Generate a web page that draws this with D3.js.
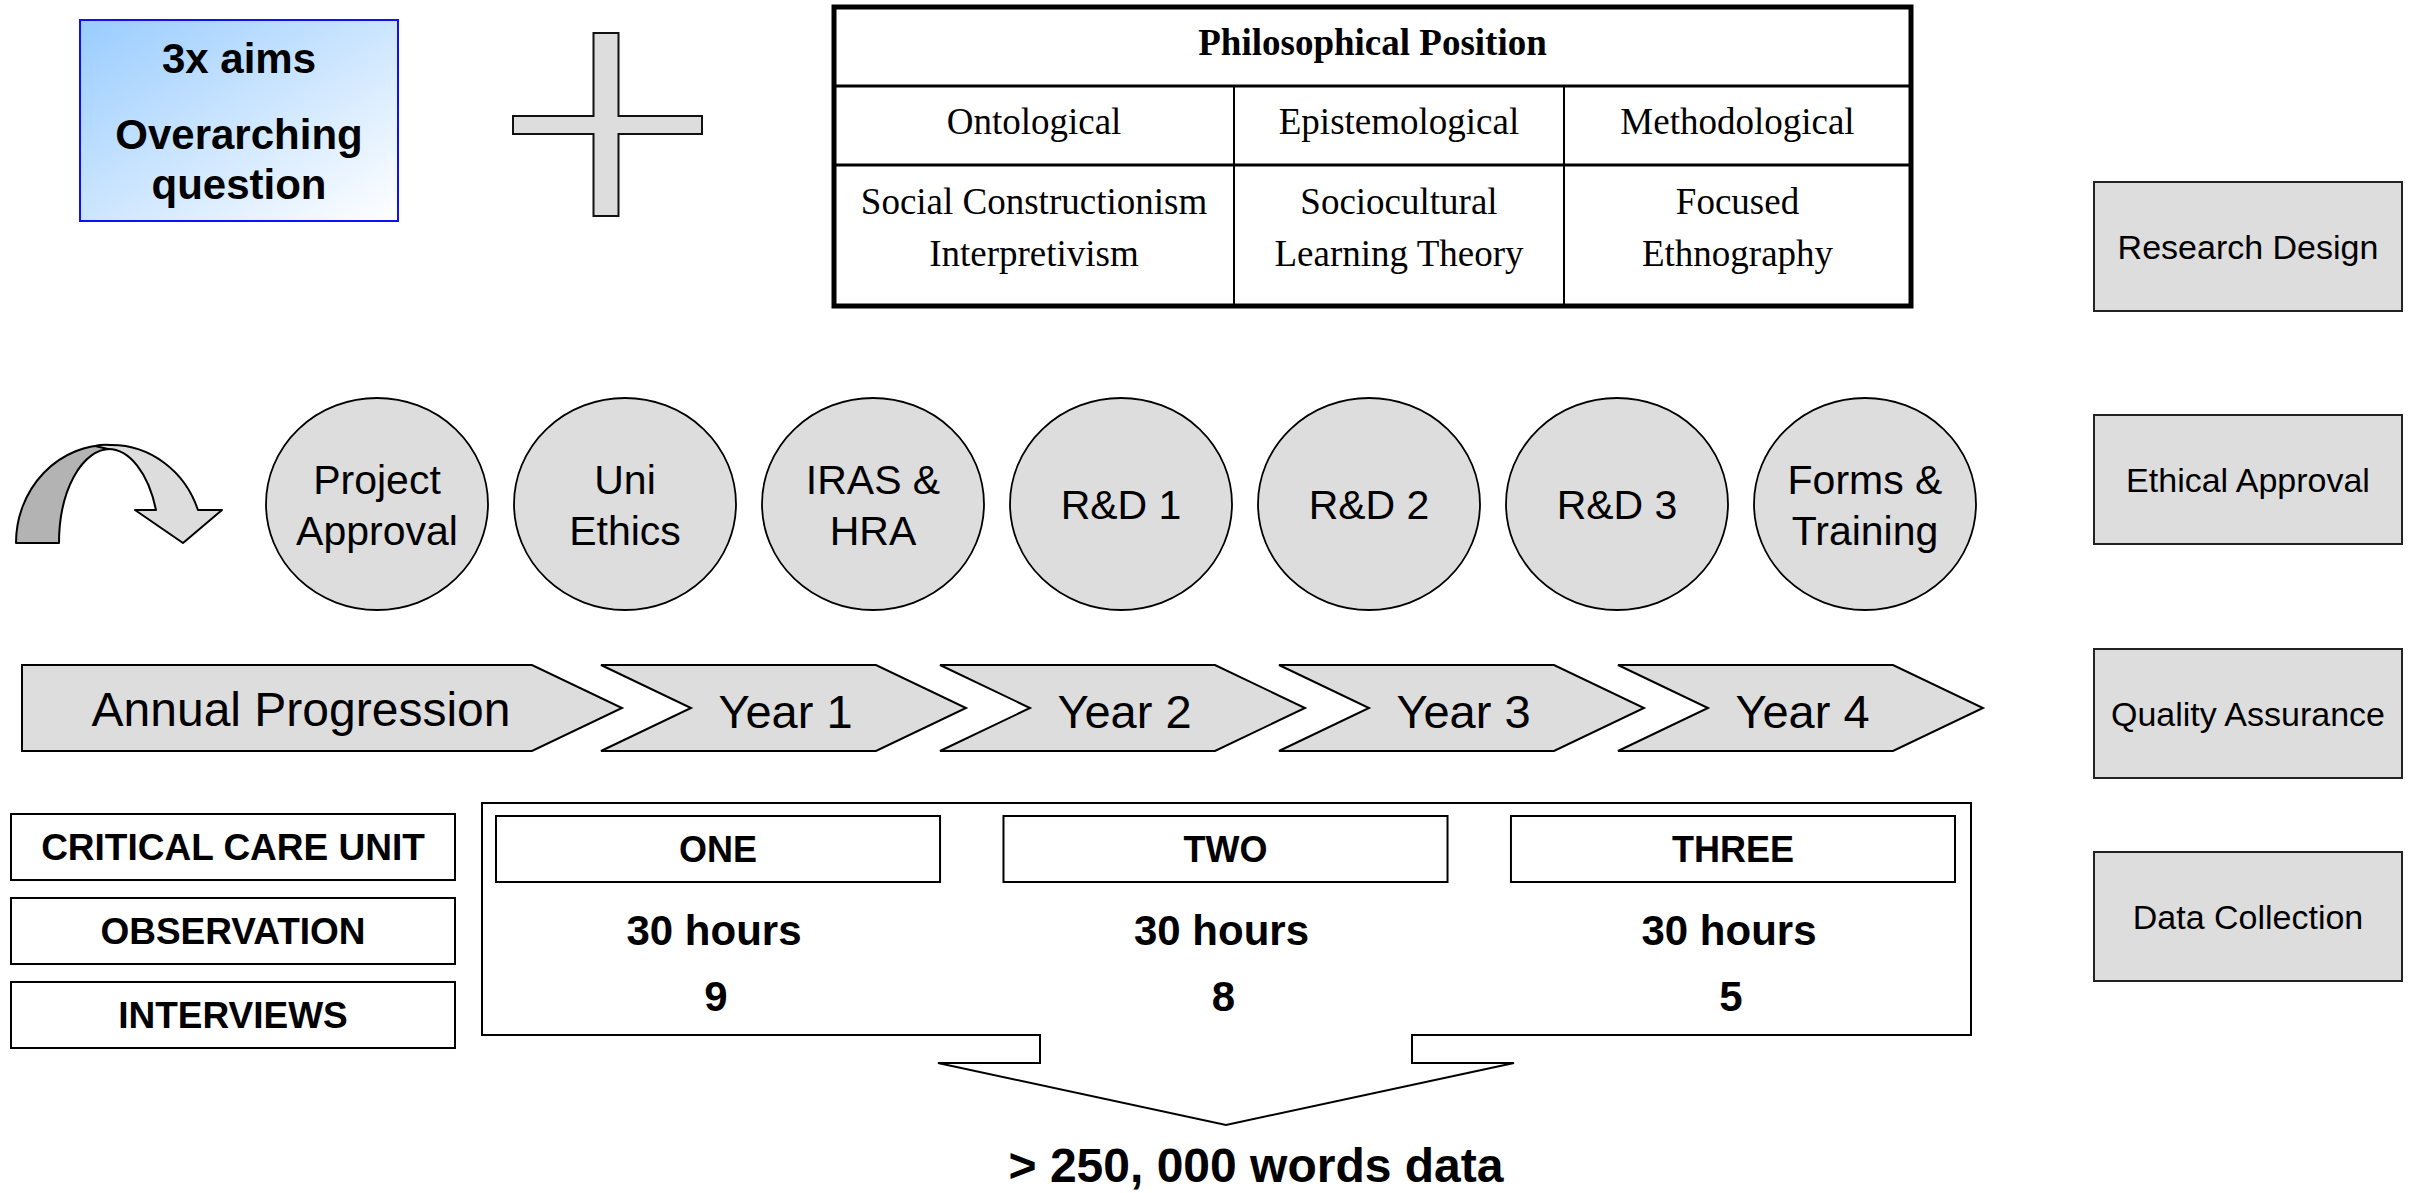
<!DOCTYPE html>
<html>
<head>
<meta charset="utf-8">
<script src="https://cdn.jsdelivr.net/npm/d3@7"></script>
<style>
  body { margin: 0; background: #fff; }
  svg { display: block; }
</style>
</head>
<body>
<svg id="chart" width="2417" height="1193"></svg>
<script>
// ---- content of the diagram ----
const aimsLines = ["3x aims", "Overarching", "question"];
const tableTitle = "Philosophical Position";
const tableHeads = ["Ontological", "Epistemological", "Methodological"];
const tableCells = [
  ["Social Constructionism", "Interpretivism"],
  ["Sociocultural", "Learning Theory"],
  ["Focused", "Ethnography"]
];
const approvalSteps = [
  ["Project", "Approval"], ["Uni", "Ethics"], ["IRAS &", "HRA"],
  ["R&D 1"], ["R&D 2"], ["R&D 3"], ["Forms &", "Training"]
];
const progressionLabel = "Annual Progression";
const years = ["Year 1", "Year 2", "Year 3", "Year 4"];
const siteLabels = ["CRITICAL CARE UNIT", "OBSERVATION", "INTERVIEWS"];
const units = ["ONE", "TWO", "THREE"];
const observationHours = [30, 30, 30];
const interviewCounts = [9, 8, 5];
const totalWords = "> 250, 000 words data";
const stages = ["Research Design", "Ethical Approval", "Quality Assurance", "Data Collection"];

// ---- styling ----
const sans = "'Liberation Sans', Arial, sans-serif",
  serif = "'Liberation Serif', 'Times New Roman', serif",
  grey = "#dddddd",
  darkGrey = "#b3b3b3";

const svg = d3.select("#chart");

const defs = svg.append("defs");
const grad = defs.append("linearGradient")
  .attr("id", "aimsFill")
  .attr("x1", 0).attr("y1", 0).attr("x2", 1).attr("y2", 1);
grad.append("stop").attr("offset", 0).attr("stop-color", "#99ccff");
grad.append("stop").attr("offset", 1).attr("stop-color", "#ffffff");

// ---- aims box ----
const aims = svg.append("g").attr("id", "aims");
aims.append("rect")
  .attr("x", 80).attr("y", 20).attr("width", 318).attr("height", 201)
  .attr("fill", "url(#aimsFill)")
  .attr("stroke", "#0f0fff").attr("stroke-width", 2);
const aimsY = d3.scaleOrdinal().domain(aimsLines).range([73, 149, 199]);
aims.selectAll("text")
  .data(aimsLines)
  .join("text")
  .attr("x", 239)
  .attr("y", d => aimsY(d))
  .attr("text-anchor", "middle")
  .attr("font-family", sans).attr("font-weight", "bold").attr("font-size", 42)
  .text(d => d);

// ---- plus sign ----
const plus = { cx: 606, cy: 125, armV: 12.5, armH: 9, left: 513, right: 702, top: 33, bottom: 216 };
svg.append("path")
  .attr("d", d3.line()([
    [plus.cx - plus.armV, plus.top], [plus.cx + plus.armV, plus.top],
    [plus.cx + plus.armV, plus.cy - plus.armH], [plus.right, plus.cy - plus.armH],
    [plus.right, plus.cy + plus.armH], [plus.cx + plus.armV, plus.cy + plus.armH],
    [plus.cx + plus.armV, plus.bottom], [plus.cx - plus.armV, plus.bottom],
    [plus.cx - plus.armV, plus.cy + plus.armH], [plus.left, plus.cy + plus.armH],
    [plus.left, plus.cy - plus.armH], [plus.cx - plus.armV, plus.cy - plus.armH]
  ]) + "Z")
  .attr("fill", grey).attr("stroke", "#111").attr("stroke-width", 2);

// ---- philosophical position table ----
const colEdges = [834, 1234, 1564, 1911];
const rowEdges = [7, 86, 165, 306];
const table = svg.append("g").attr("id", "table");
table.append("rect")
  .attr("x", colEdges[0]).attr("y", rowEdges[0])
  .attr("width", colEdges[3] - colEdges[0]).attr("height", rowEdges[3] - rowEdges[0])
  .attr("fill", "#fff").attr("stroke", "#000").attr("stroke-width", 5);
table.selectAll("line.row")
  .data([rowEdges[1], rowEdges[2]])
  .join("line").attr("class", "row")
  .attr("x1", colEdges[0]).attr("x2", colEdges[3])
  .attr("y1", d => d).attr("y2", d => d)
  .attr("stroke", "#000").attr("stroke-width", 3);
table.selectAll("line.col")
  .data([colEdges[1], colEdges[2]])
  .join("line").attr("class", "col")
  .attr("x1", d => d).attr("x2", d => d)
  .attr("y1", rowEdges[1]).attr("y2", rowEdges[3])
  .attr("stroke", "#000").attr("stroke-width", 2);
table.append("text")
  .attr("x", (colEdges[0] + colEdges[3]) / 2).attr("y", 55)
  .attr("text-anchor", "middle")
  .attr("font-family", serif).attr("font-weight", "bold").attr("font-size", 37)
  .text(tableTitle);
const colMid = i => (colEdges[i] + colEdges[i + 1]) / 2;
table.selectAll("text.head")
  .data(tableHeads)
  .join("text").attr("class", "head")
  .attr("x", (d, i) => colMid(i)).attr("y", 134)
  .attr("text-anchor", "middle")
  .attr("font-family", serif).attr("font-size", 37)
  .text(d => d);
table.selectAll("text.cell")
  .data(tableCells)
  .join("text").attr("class", "cell")
  .attr("text-anchor", "middle")
  .attr("font-family", serif).attr("font-size", 37)
  .selectAll("tspan")
  .data((d, i) => d.map(t => ({ t, i })))
  .join("tspan")
  .attr("x", d => colMid(d.i))
  .attr("y", (d, j) => 214 + j * 52)
  .text(d => d.t);

// ---- curved arrow ----
const curl = svg.append("g").attr("id", "curl");
curl.append("path")
  .attr("d", "M16,543 A92,98 0 0 1 110,445 L110,449 A51,94 0 0 0 59,543 Z")
  .attr("fill", darkGrey).attr("stroke", "#000").attr("stroke-width", 2).attr("stroke-linejoin", "round");
curl.append("path")
  .attr("d", "M95,446 Q104,444 110,445 A92,98 0 0 1 198,510 L222,510 L183,543 L135,510 L156,510 A51,94 0 0 0 108,449 Z")
  .attr("fill", grey).attr("stroke", "#000").attr("stroke-width", 2).attr("stroke-linejoin", "round");

// ---- approval ellipses ----
const stepX = d3.scalePoint().domain(d3.range(approvalSteps.length)).range([377, 1865]);
const step = { cy: 504, rx: 111, ry: 106, lineH: 51 };
const steps = svg.append("g").attr("id", "steps")
  .selectAll("g")
  .data(approvalSteps)
  .join("g")
  .attr("transform", (d, i) => `translate(${stepX(i)},${step.cy})`);
steps.append("ellipse")
  .attr("rx", step.rx).attr("ry", step.ry)
  .attr("fill", grey).attr("stroke", "#000").attr("stroke-width", 1.8);
steps.append("text")
  .attr("text-anchor", "middle")
  .attr("font-family", sans).attr("font-size", 41)
  .selectAll("tspan")
  .data(d => d.map((t, j) => ({ t, j, n: d.length })))
  .join("tspan")
  .attr("x", 0)
  .attr("y", d => 15 + (d.j - (d.n - 1) / 2) * step.lineH)
  .text(d => d.t);

// ---- progression chevrons ----
const chev = { top: 665, bottom: 751, depth: 90, width: 365 };
const chevMid = (chev.top + chev.bottom) / 2;
const prog = svg.append("g").attr("id", "progression");
prog.append("path")
  .attr("d", d3.line()([
    [22, chev.top], [532, chev.top], [622, chevMid], [532, chev.bottom], [22, chev.bottom]
  ]) + "Z")
  .attr("fill", grey).attr("stroke", "#000").attr("stroke-width", 2);
prog.append("text")
  .attr("x", 301).attr("y", 726)
  .attr("text-anchor", "middle")
  .attr("font-family", sans).attr("font-size", 48)
  .text(progressionLabel);

const yearX = d3.scalePoint().domain(years).range([601, 1618]);
const yearG = prog.selectAll("g.year")
  .data(years)
  .join("g").attr("class", "year")
  .attr("transform", d => `translate(${yearX(d)},0)`);
yearG.append("path")
  .attr("d", d3.line()([
    [0, chev.top], [chev.width - chev.depth, chev.top], [chev.width, chevMid],
    [chev.width - chev.depth, chev.bottom], [0, chev.bottom], [chev.depth, chevMid]
  ]) + "Z")
  .attr("fill", grey).attr("stroke", "#000").attr("stroke-width", 2);
yearG.append("text")
  .attr("x", chev.width / 2 + 2).attr("y", 728)
  .attr("text-anchor", "middle")
  .attr("font-family", sans).attr("font-size", 47)
  .text(d => d);

// ---- stage boxes on the right ----
const stageY = d3.scaleOrdinal().domain(stages).range([182, 415, 649, 852]);
const stageBox = { x: 2094, w: 308, h: 129 };
const stageG = svg.append("g").attr("id", "stages")
  .selectAll("g")
  .data(stages)
  .join("g")
  .attr("transform", d => `translate(${stageBox.x},${stageY(d)})`);
stageG.append("rect")
  .attr("width", stageBox.w).attr("height", stageBox.h)
  .attr("fill", grey).attr("stroke", "#222").attr("stroke-width", 2);
stageG.append("text")
  .attr("x", stageBox.w / 2).attr("y", stageBox.h / 2 + 12)
  .attr("text-anchor", "middle")
  .attr("font-family", sans).attr("font-size", 34)
  .text(d => d);

// ---- data collection block ----
const siteY = d3.scaleBand().domain(siteLabels).range([814, 1048]).paddingInner(0.214);
const siteG = svg.append("g").attr("id", "sites")
  .selectAll("g")
  .data(siteLabels)
  .join("g")
  .attr("transform", d => `translate(11,${siteY(d)})`);
siteG.append("rect")
  .attr("width", 444).attr("height", siteY.bandwidth())
  .attr("fill", "#fff").attr("stroke", "#000").attr("stroke-width", 2);
siteG.append("text")
  .attr("x", 222).attr("y", siteY.bandwidth() / 2 + 13)
  .attr("text-anchor", "middle")
  .attr("font-family", sans).attr("font-weight", "bold").attr("font-size", 37)
  .text(d => d);

// callout box with downward arrow
const call = { l: 482, r: 1971, t: 803, b: 1035, stubL: 1040, stubR: 1412, wingL: 938, wingR: 1514, wingY: 1063, tipX: 1226, tipY: 1125 };
svg.append("path")
  .attr("d", d3.line()([
    [call.l, call.t], [call.r, call.t], [call.r, call.b], [call.stubR, call.b],
    [call.stubR, call.wingY], [call.wingR, call.wingY], [call.tipX, call.tipY],
    [call.wingL, call.wingY], [call.stubL, call.wingY], [call.stubL, call.b], [call.l, call.b]
  ]) + "Z")
  .attr("fill", "#fff").attr("stroke", "#000").attr("stroke-width", 2);

const unitX = d3.scaleBand().domain(units).range([496, 1955]).paddingInner(0.125);
const unitG = svg.append("g").attr("id", "units")
  .selectAll("g")
  .data(units.map((u, i) => ({ u, hours: observationHours[i], count: interviewCounts[i] })))
  .join("g")
  .attr("transform", d => `translate(${unitX(d.u)},0)`);
unitG.append("rect")
  .attr("y", 816).attr("width", unitX.bandwidth()).attr("height", 66)
  .attr("fill", "#fff").attr("stroke", "#000").attr("stroke-width", 2);
unitG.append("text")
  .attr("x", unitX.bandwidth() / 2).attr("y", 862)
  .attr("text-anchor", "middle")
  .attr("font-family", sans).attr("font-weight", "bold").attr("font-size", 36)
  .text(d => d.u);
unitG.append("text")
  .attr("x", unitX.bandwidth() / 2 - 4).attr("y", 945)
  .attr("text-anchor", "middle")
  .attr("font-family", sans).attr("font-weight", "bold").attr("font-size", 42)
  .text(d => d.hours + " hours");
unitG.append("text")
  .attr("x", unitX.bandwidth() / 2 - 2).attr("y", 1011)
  .attr("text-anchor", "middle")
  .attr("font-family", sans).attr("font-weight", "bold").attr("font-size", 42)
  .text(d => d.count);

svg.append("text")
  .attr("x", 1256).attr("y", 1182)
  .attr("text-anchor", "middle")
  .attr("font-family", sans).attr("font-weight", "bold").attr("font-size", 48)
  .text(totalWords);
</script>
</body>
</html>
